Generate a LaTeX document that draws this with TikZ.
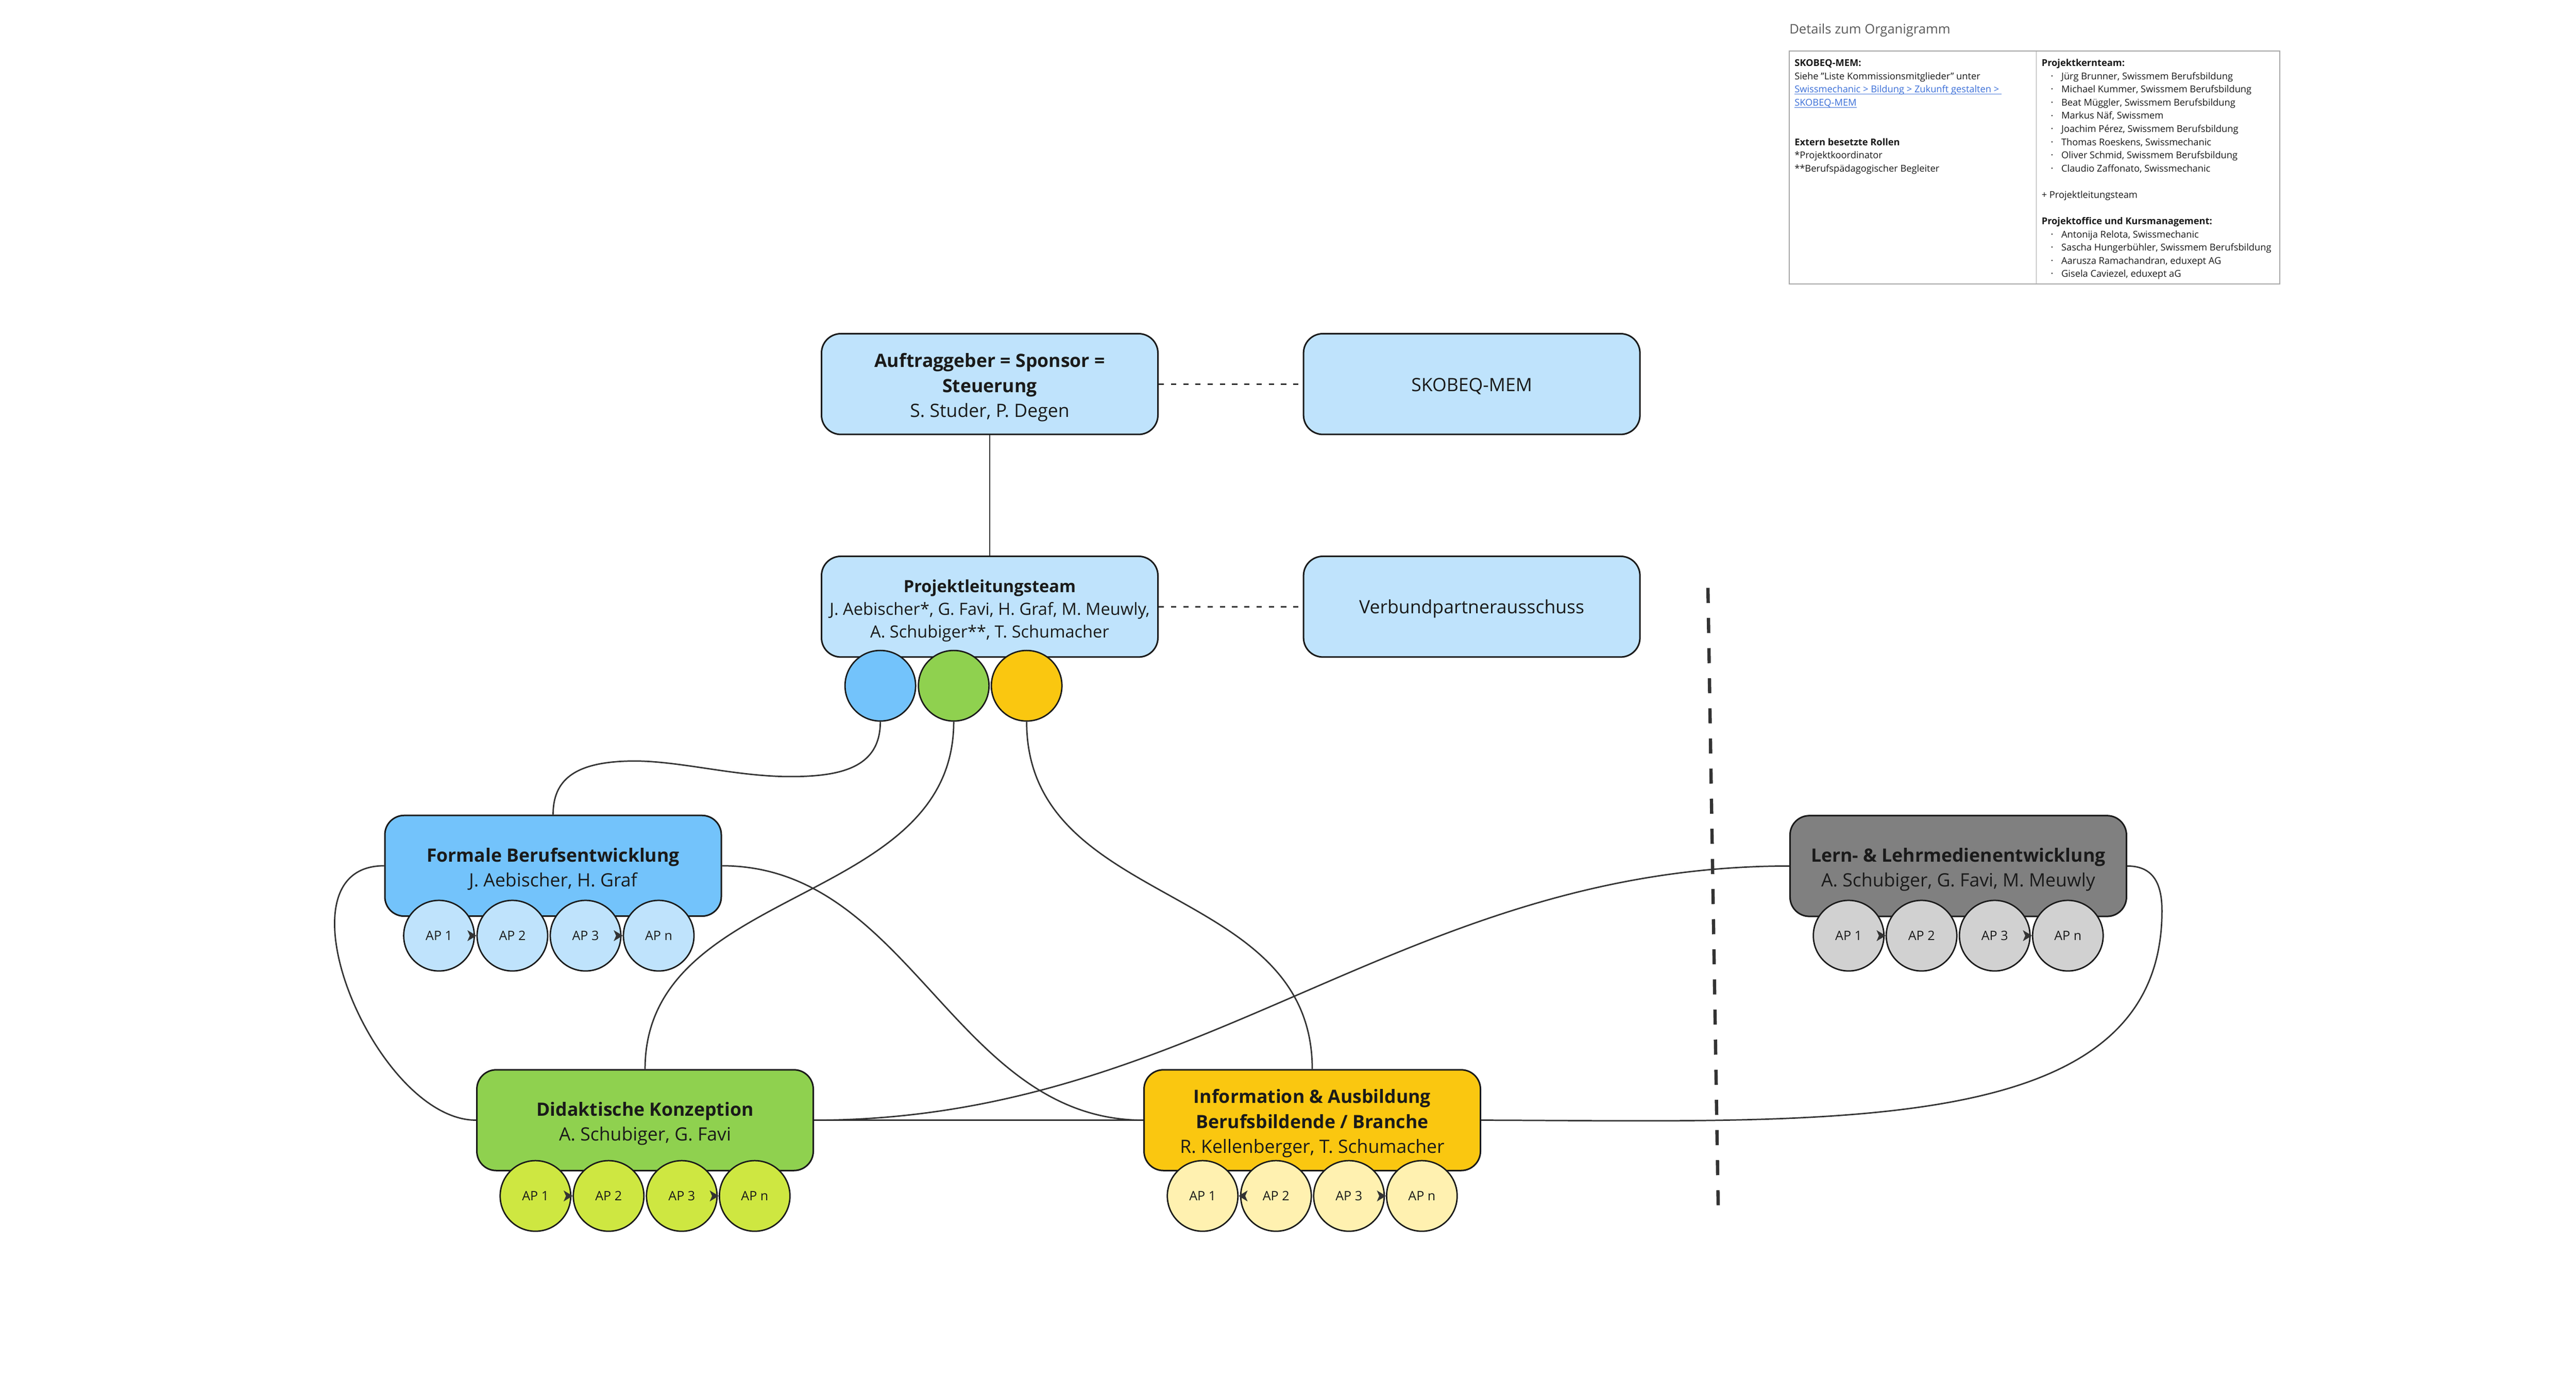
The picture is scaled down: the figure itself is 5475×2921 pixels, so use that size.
\documentclass[tikz,border=0pt]{standalone}
\usepackage{fontspec}
\setmainfont{Open Sans}
\usetikzlibrary{arrows.meta,calc}
\definecolor{lblue}{HTML}{BFE3FC}
\definecolor{mblue}{HTML}{73C3FB}
\definecolor{mgreen}{HTML}{8FD14F}
\definecolor{lime}{HTML}{CEE741}
\definecolor{myellow}{HTML}{FAC710}
\definecolor{lyellow}{HTML}{FFF1B0}
\definecolor{mgray}{HTML}{808080}
\definecolor{lgray}{HTML}{D1D1D1}
\definecolor{edge}{HTML}{1A1A1A}
\definecolor{txt}{HTML}{1A1A1A}
\definecolor{lin}{HTML}{333333}
\definecolor{tipc}{HTML}{333333}
\definecolor{link}{HTML}{3B6FD8}
\definecolor{titlegray}{HTML}{5A5A5A}
\definecolor{detline}{HTML}{A8A8A8}
\newsavebox{\myulbox}
\newcommand{\myulink}[1]{\sbox{\myulbox}{#1}\rlap{\rule[-4pt]{\wd\myulbox}{1.3pt}}\usebox{\myulbox}}
\newcommand{\detbul}{\hspace*{20pt}\makebox[22pt][l]{\raisebox{3pt}{\fontsize{11}{11}\selectfont •}}}
\newcommand{\boxstrut}{\rule{0pt}{44pt}}
\begin{document}
\begin{tikzpicture}[x=1pt,y=-1pt,
  box/.style={draw=edge, line width=3.3pt, rounded corners=41pt, minimum width=715pt,
    minimum height=214pt, inner sep=0pt, align=center, text=txt,
    font=\fontsize{39}{53}\selectfont},
  smallbox/.style={font=\fontsize{35.7}{48.5}\selectfont},
  ap/.style={circle, draw=edge, line width=3pt, minimum size=150pt, inner sep=0pt,
    text=txt, font=\fontsize{27.5}{33}\selectfont},
  dot/.style={circle, draw=edge, line width=3pt, minimum size=150pt, inner sep=0pt},
  conn/.style={draw=lin, line width=3pt},
  dconn/.style={conn, dash pattern=on 11pt off 15pt},
  aptip/.style={tipc, line width=0.1pt, -{Stealth[length=19pt,width=23pt,inset=5pt]}},
  divider/.style={draw=lin, line width=7pt, dash pattern=on 32pt off 32pt},
  dettext/.style={anchor=north west, align=left, inner sep=0pt, text=txt,
    font=\fontsize{20}{28}\selectfont}
]
\useasboundingbox[fill=white] (0,0) rectangle (5475,2921);

% ---- details panel
\node[anchor=base west, inner sep=0pt, text=titlegray, font=\fontsize{28}{34}\selectfont]
  (dettitle) at (3803,72) {Details zum Organigramm};
\coordinate (dtl) at (3803,108);
\coordinate (dbr) at (4845,603);
\coordinate (dvt) at (4328,108);
\coordinate (dvb) at (4328,603);
\draw[detline, line width=2pt] (dtl) rectangle (dbr);
\draw[detline, line width=2pt] (dvt) -- (dvb);
\node[dettext] (detleft) at (3814,121) {\strut\textbf{SKOBEQ-MEM:}\\
Siehe "Liste Kommissionsmitglieder" unter\\
{\color{link}\myulink{Swissmechanic > Bildung > Zukunft gestalten >\ }}\\
{\color{link}\myulink{SKOBEQ-MEM}}\\[56pt]
\textbf{Extern besetzte Rollen}\\
*Projektkoordinator\\
**Berufspädagogischer Begleiter};
\node[dettext] (detright) at (4339,121) {\strut\textbf{Projektkernteam:}\\
\detbul Jürg Brunner, Swissmem Berufsbildung\\
\detbul Michael Kummer, Swissmem Berufsbildung\\
\detbul Beat Müggler, Swissmem Berufsbildung\\
\detbul Markus Näf, Swissmem\\
\detbul Joachim Pérez, Swissmem Berufsbildung\\
\detbul Thomas Roeskens, Swissmechanic\\
\detbul Oliver Schmid, Swissmem Berufsbildung\\
\detbul Claudio Zaffonato, Swissmechanic\\[28pt]
+ Projektleitungsteam\\[28pt]
\textbf{Projektoffice und Kursmanagement:}\\
\detbul Antonija Relota, Swissmechanic\\
\detbul Sascha Hungerbühler, Swissmem Berufsbildung\\
\detbul Aarusza Ramachandran, eduxept AG\\
\detbul Gisela Caviezel, eduxept aG};

% ---- main boxes
\node[box, fill=lblue] (auf) at (2103.5,816) {\boxstrut\textbf{Auftraggeber = Sponsor =}\\\textbf{Steuerung}\\S. Studer, P. Degen};
\node[box, fill=lblue] (sko) at (3128,816) {\rule{0pt}{38pt}SKOBEQ-MEM};
\node[box, smallbox, fill=lblue] (plt) at (2103.5,1289) {\boxstrut\textbf{Projektleitungsteam}\\J. Aebischer*, G. Favi, H. Graf, M. Meuwly,\\A. Schubiger**, T. Schumacher};
\node[box, fill=lblue] (ver) at (3128,1289) {\rule{0pt}{38pt}Verbundpartnerausschuss};

\node[dot, fill=mblue] (cb) at (1871,1457) {};
\node[dot, fill=mgreen] (cg) at (2027,1457) {};
\node[dot, fill=myellow] (cy) at (2182,1457) {};

\node[box, fill=mblue] (form) at (1175.5,1839.5) {\boxstrut\textbf{Formale Berufsentwicklung}\\J. Aebischer, H. Graf};
\node[box, fill=mgreen] (did) at (1371,2380) {\boxstrut\textbf{Didaktische Konzeption}\\A. Schubiger, G. Favi};
\node[box, fill=myellow] (info) at (2789,2380) {\boxstrut\textbf{Information \& Ausbildung}\\\textbf{Berufsbildende / Branche}\\R. Kellenberger, T. Schumacher};
\node[box, fill=mgray] (lern) at (4162,1840) {\boxstrut\textbf{Lern- \& Lehrmedienentwicklung}\\A. Schubiger, G. Favi, M. Meuwly};

% ---- AP circles
\node[ap, fill=lblue] (f1) at (933,1988) {AP 1};
\node[ap, fill=lblue] (f2) at (1089,1988) {AP 2};
\node[ap, fill=lblue] (f3) at (1244.5,1988) {AP 3};
\node[ap, fill=lblue] (f4) at (1400,1988) {AP n};

\node[ap, fill=lime] (d1) at (1138,2541) {AP 1};
\node[ap, fill=lime] (d2) at (1293.5,2541) {AP 2};
\node[ap, fill=lime] (d3) at (1449,2541) {AP 3};
\node[ap, fill=lime] (d4) at (1604,2541) {AP n};

\node[ap, fill=lyellow] (i1) at (2556,2541) {AP 1};
\node[ap, fill=lyellow] (i2) at (2712,2541) {AP 2};
\node[ap, fill=lyellow] (i3) at (2867,2541) {AP 3};
\node[ap, fill=lyellow] (i4) at (3022,2541) {AP n};

\node[ap, fill=lgray] (l1) at (3929,1988) {AP 1};
\node[ap, fill=lgray] (l2) at (4084,1988) {AP 2};
\node[ap, fill=lgray] (l3) at (4239.5,1988) {AP 3};
\node[ap, fill=lgray] (l4) at (4395,1988) {AP n};

\draw[aptip] (f1.east) -- (f2.west);
\draw[aptip] (f3.east) -- (f4.west);
\draw[aptip] (d1.east) -- (d2.west);
\draw[aptip] (d3.east) -- (d4.west);
\draw[aptip] (i2.west) -- (i1.east);
\draw[aptip] (i3.east) -- (i4.west);
\draw[aptip] (l1.east) -- (l2.west);
\draw[aptip] (l3.east) -- (l4.west);

% ---- connectors
\draw[conn] (auf.south) -- (plt.north);
\draw[dconn] (auf.east) -- (sko.west);
\draw[dconn] (plt.east) -- (ver.west);

\coordinate (bf1) at (1680,1650);
\coordinate (bf2) at (1340,1617);
\draw[conn] (cb.south) .. controls +(0,96) and +(110,0) .. (bf1)
  .. controls +(-120,0) and +(100,-2) .. (bf2)
  .. controls +(-120,2) and +(0,-73) .. (form.north);
\draw[conn] (cg.south) .. controls +(0,395) and +(0,-395) .. (did.north);
\draw[conn] (cy.south) .. controls +(0,400) and +(0,-400) .. (info.north);
\draw[conn] (form.east) .. controls +(400,0) and +(-400,0) .. (info.west);
\draw[conn] (form.west) .. controls +(-242,0) and +(-215,0) .. (did.west);
\draw[conn] (did.east) -- (info.west);
\draw[conn] (did.east) .. controls +(824,0) and +(-824,0) .. (lern.west);
\coordinate (il1) at (4595,1935);
\draw[conn] (info.east) .. controls (3900,2382) and (4595,2420) .. (il1)
  .. controls +(0,-65) and +(50,0) .. (lern.east);

% ---- divider
\coordinate (dvtop) at (3630,1249);
\coordinate (dvbot) at (3652,2575);
\draw[divider] (dvtop) -- (dvbot);
\end{tikzpicture}
\end{document}
